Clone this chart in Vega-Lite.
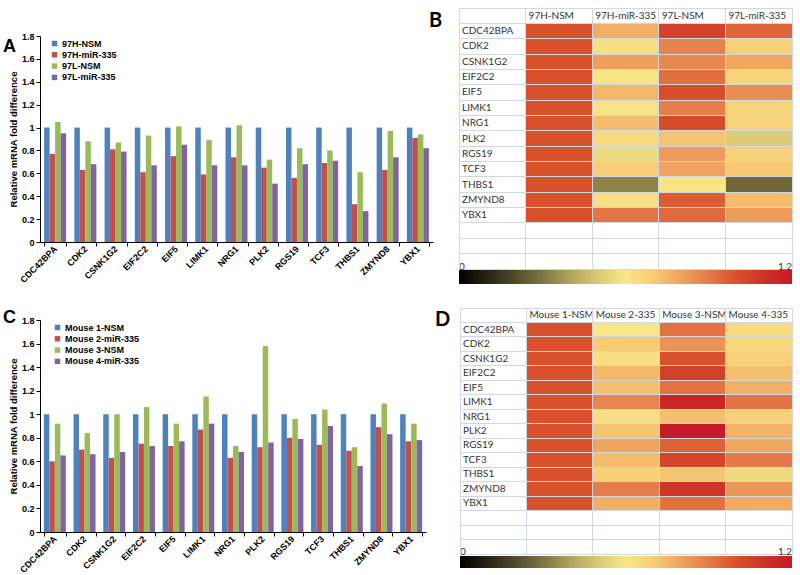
{
  "$schema": "https://vega.github.io/schema/vega-lite/v6.json",
  "background": "white",
  "padding": {"left": 3, "top": 7, "right": 2, "bottom": 0},
  "config": {
    "view": {"stroke": null},
    "font": "Liberation Sans",
    "title": {"fontSize": 18, "fontWeight": "bold", "anchor": "start", "frame": "group", "offset": 0, "baseline": "alphabetic", "color": "#000"}
  },
  "datasets": {
    "cells": [
      {"gene": "CDC42BPA", "sample": "97H-NSM", "value": 1}, {"gene": "CDC42BPA", "sample": "97H-miR-335", "value": 0.77}, {"gene": "CDC42BPA", "sample": "97L-NSM", "value": 1.05}, {"gene": "CDC42BPA", "sample": "97L-miR-335", "value": 0.95},
      {"gene": "CDK2", "sample": "97H-NSM", "value": 1}, {"gene": "CDK2", "sample": "97H-miR-335", "value": 0.63}, {"gene": "CDK2", "sample": "97L-NSM", "value": 0.88}, {"gene": "CDK2", "sample": "97L-miR-335", "value": 0.68},
      {"gene": "CSNK1G2", "sample": "97H-NSM", "value": 1}, {"gene": "CSNK1G2", "sample": "97H-miR-335", "value": 0.81}, {"gene": "CSNK1G2", "sample": "97L-NSM", "value": 0.87}, {"gene": "CSNK1G2", "sample": "97L-miR-335", "value": 0.79},
      {"gene": "EIF2C2", "sample": "97H-NSM", "value": 1}, {"gene": "EIF2C2", "sample": "97H-miR-335", "value": 0.61}, {"gene": "EIF2C2", "sample": "97L-NSM", "value": 0.93}, {"gene": "EIF2C2", "sample": "97L-miR-335", "value": 0.67},
      {"gene": "EIF5", "sample": "97H-NSM", "value": 1}, {"gene": "EIF5", "sample": "97H-miR-335", "value": 0.75}, {"gene": "EIF5", "sample": "97L-NSM", "value": 1.01}, {"gene": "EIF5", "sample": "97L-miR-335", "value": 0.85},
      {"gene": "LIMK1", "sample": "97H-NSM", "value": 1}, {"gene": "LIMK1", "sample": "97H-miR-335", "value": 0.59}, {"gene": "LIMK1", "sample": "97L-NSM", "value": 0.89}, {"gene": "LIMK1", "sample": "97L-miR-335", "value": 0.67},
      {"gene": "NRG1", "sample": "97H-NSM", "value": 1}, {"gene": "NRG1", "sample": "97H-miR-335", "value": 0.74}, {"gene": "NRG1", "sample": "97L-NSM", "value": 1.02}, {"gene": "NRG1", "sample": "97L-miR-335", "value": 0.67},
      {"gene": "PLK2", "sample": "97H-NSM", "value": 1}, {"gene": "PLK2", "sample": "97H-miR-335", "value": 0.65}, {"gene": "PLK2", "sample": "97L-NSM", "value": 0.72}, {"gene": "PLK2", "sample": "97L-miR-335", "value": 0.51},
      {"gene": "RGS19", "sample": "97H-NSM", "value": 1}, {"gene": "RGS19", "sample": "97H-miR-335", "value": 0.56}, {"gene": "RGS19", "sample": "97L-NSM", "value": 0.82}, {"gene": "RGS19", "sample": "97L-miR-335", "value": 0.68},
      {"gene": "TCF3", "sample": "97H-NSM", "value": 1}, {"gene": "TCF3", "sample": "97H-miR-335", "value": 0.69}, {"gene": "TCF3", "sample": "97L-NSM", "value": 0.8}, {"gene": "TCF3", "sample": "97L-miR-335", "value": 0.71},
      {"gene": "THBS1", "sample": "97H-NSM", "value": 1}, {"gene": "THBS1", "sample": "97H-miR-335", "value": 0.33}, {"gene": "THBS1", "sample": "97L-NSM", "value": 0.61}, {"gene": "THBS1", "sample": "97L-miR-335", "value": 0.27},
      {"gene": "ZMYND8", "sample": "97H-NSM", "value": 1}, {"gene": "ZMYND8", "sample": "97H-miR-335", "value": 0.63}, {"gene": "ZMYND8", "sample": "97L-NSM", "value": 0.97}, {"gene": "ZMYND8", "sample": "97L-miR-335", "value": 0.74},
      {"gene": "YBX1", "sample": "97H-NSM", "value": 1}, {"gene": "YBX1", "sample": "97H-miR-335", "value": 0.91}, {"gene": "YBX1", "sample": "97L-NSM", "value": 0.94}, {"gene": "YBX1", "sample": "97L-miR-335", "value": 0.82}
    ],
    "mice": [
      {"gene": "CDC42BPA", "sample": "Mouse 1-NSM", "short": "Mouse 1-NSM", "value": 1}, {"gene": "CDC42BPA", "sample": "Mouse 2-miR-335", "short": "Mouse 2-335", "value": 0.6}, {"gene": "CDC42BPA", "sample": "Mouse 3-NSM", "short": "Mouse 3-NSM", "value": 0.92}, {"gene": "CDC42BPA", "sample": "Mouse 4-miR-335", "short": "Mouse 4-335", "value": 0.65},
      {"gene": "CDK2", "sample": "Mouse 1-NSM", "short": "Mouse 1-NSM", "value": 1}, {"gene": "CDK2", "sample": "Mouse 2-miR-335", "short": "Mouse 2-335", "value": 0.7}, {"gene": "CDK2", "sample": "Mouse 3-NSM", "short": "Mouse 3-NSM", "value": 0.84}, {"gene": "CDK2", "sample": "Mouse 4-miR-335", "short": "Mouse 4-335", "value": 0.66},
      {"gene": "CSNK1G2", "sample": "Mouse 1-NSM", "short": "Mouse 1-NSM", "value": 1}, {"gene": "CSNK1G2", "sample": "Mouse 2-miR-335", "short": "Mouse 2-335", "value": 0.63}, {"gene": "CSNK1G2", "sample": "Mouse 3-NSM", "short": "Mouse 3-NSM", "value": 1.0}, {"gene": "CSNK1G2", "sample": "Mouse 4-miR-335", "short": "Mouse 4-335", "value": 0.68},
      {"gene": "EIF2C2", "sample": "Mouse 1-NSM", "short": "Mouse 1-NSM", "value": 1}, {"gene": "EIF2C2", "sample": "Mouse 2-miR-335", "short": "Mouse 2-335", "value": 0.75}, {"gene": "EIF2C2", "sample": "Mouse 3-NSM", "short": "Mouse 3-NSM", "value": 1.06}, {"gene": "EIF2C2", "sample": "Mouse 4-miR-335", "short": "Mouse 4-335", "value": 0.73},
      {"gene": "EIF5", "sample": "Mouse 1-NSM", "short": "Mouse 1-NSM", "value": 1}, {"gene": "EIF5", "sample": "Mouse 2-miR-335", "short": "Mouse 2-335", "value": 0.73}, {"gene": "EIF5", "sample": "Mouse 3-NSM", "short": "Mouse 3-NSM", "value": 0.92}, {"gene": "EIF5", "sample": "Mouse 4-miR-335", "short": "Mouse 4-335", "value": 0.77},
      {"gene": "LIMK1", "sample": "Mouse 1-NSM", "short": "Mouse 1-NSM", "value": 1}, {"gene": "LIMK1", "sample": "Mouse 2-miR-335", "short": "Mouse 2-335", "value": 0.87}, {"gene": "LIMK1", "sample": "Mouse 3-NSM", "short": "Mouse 3-NSM", "value": 1.15}, {"gene": "LIMK1", "sample": "Mouse 4-miR-335", "short": "Mouse 4-335", "value": 0.92},
      {"gene": "NRG1", "sample": "Mouse 1-NSM", "short": "Mouse 1-NSM", "value": 1}, {"gene": "NRG1", "sample": "Mouse 2-miR-335", "short": "Mouse 2-335", "value": 0.63}, {"gene": "NRG1", "sample": "Mouse 3-NSM", "short": "Mouse 3-NSM", "value": 0.73}, {"gene": "NRG1", "sample": "Mouse 4-miR-335", "short": "Mouse 4-335", "value": 0.68},
      {"gene": "PLK2", "sample": "Mouse 1-NSM", "short": "Mouse 1-NSM", "value": 1}, {"gene": "PLK2", "sample": "Mouse 2-miR-335", "short": "Mouse 2-335", "value": 0.72}, {"gene": "PLK2", "sample": "Mouse 3-NSM", "short": "Mouse 3-NSM", "value": 1.58}, {"gene": "PLK2", "sample": "Mouse 4-miR-335", "short": "Mouse 4-335", "value": 0.76},
      {"gene": "RGS19", "sample": "Mouse 1-NSM", "short": "Mouse 1-NSM", "value": 1}, {"gene": "RGS19", "sample": "Mouse 2-miR-335", "short": "Mouse 2-335", "value": 0.8}, {"gene": "RGS19", "sample": "Mouse 3-NSM", "short": "Mouse 3-NSM", "value": 0.96}, {"gene": "RGS19", "sample": "Mouse 4-miR-335", "short": "Mouse 4-335", "value": 0.79},
      {"gene": "TCF3", "sample": "Mouse 1-NSM", "short": "Mouse 1-NSM", "value": 1}, {"gene": "TCF3", "sample": "Mouse 2-miR-335", "short": "Mouse 2-335", "value": 0.74}, {"gene": "TCF3", "sample": "Mouse 3-NSM", "short": "Mouse 3-NSM", "value": 1.04}, {"gene": "TCF3", "sample": "Mouse 4-miR-335", "short": "Mouse 4-335", "value": 0.9},
      {"gene": "THBS1", "sample": "Mouse 1-NSM", "short": "Mouse 1-NSM", "value": 1}, {"gene": "THBS1", "sample": "Mouse 2-miR-335", "short": "Mouse 2-335", "value": 0.69}, {"gene": "THBS1", "sample": "Mouse 3-NSM", "short": "Mouse 3-NSM", "value": 0.72}, {"gene": "THBS1", "sample": "Mouse 4-miR-335", "short": "Mouse 4-335", "value": 0.56},
      {"gene": "ZMYND8", "sample": "Mouse 1-NSM", "short": "Mouse 1-NSM", "value": 1}, {"gene": "ZMYND8", "sample": "Mouse 2-miR-335", "short": "Mouse 2-335", "value": 0.89}, {"gene": "ZMYND8", "sample": "Mouse 3-NSM", "short": "Mouse 3-NSM", "value": 1.09}, {"gene": "ZMYND8", "sample": "Mouse 4-miR-335", "short": "Mouse 4-335", "value": 0.83},
      {"gene": "YBX1", "sample": "Mouse 1-NSM", "short": "Mouse 1-NSM", "value": 1}, {"gene": "YBX1", "sample": "Mouse 2-miR-335", "short": "Mouse 2-335", "value": 0.77}, {"gene": "YBX1", "sample": "Mouse 3-NSM", "short": "Mouse 3-NSM", "value": 0.92}, {"gene": "YBX1", "sample": "Mouse 4-miR-335", "short": "Mouse 4-335", "value": 0.78}
    ]
  },
  "resolve": {"scale": {"color": "independent"}, "legend": {"color": "independent"}},
  "spacing": 22,
  "vconcat": [
    {
      "spacing": -5,
      "resolve": {"scale": {"color": "independent"}, "legend": {"color": "independent"}},
      "hconcat": [
        {
          "data": {"name": "cells"},
          "title": {"text": "A", "dx": -37, "dy": 52},
          "width": 393,
          "height": 234,
          "encoding": {
            "x": {"field": "gene", "type": "nominal",
              "sort": ["CDC42BPA","CDK2","CSNK1G2","EIF2C2","EIF5","LIMK1","NRG1","PLK2","RGS19","TCF3","THBS1","ZMYND8","YBX1"],
              "scale": {"paddingInner": 0.27, "paddingOuter": 0.135},
              "axis": {"title": null, "labelAngle": -45, "labelAlign": "right", "labelBaseline": "middle", "labelFontSize": 9, "labelFontWeight": "bold", "labelColor": "#000", "domainColor": "#000", "tickColor": "#000", "tickSize": 4, "tickBand": "extent", "labelPadding": 1}},
            "y": {"field": "value", "type": "quantitative",
              "scale": {"domain": [0, 1.8], "range": [234, 28], "nice": false},
              "axis": {"title": "Relative mRNA fold difference", "titleFontSize": 9.5, "titleFontWeight": "bold", "titleColor": "#000", "titlePadding": 3, "titleY": 131, "values": [0, 0.2, 0.4, 0.6, 0.8, 1, 1.2, 1.4, 1.6, 1.8], "format": "~g", "labelFontSize": 9, "labelFontWeight": "bold", "labelColor": "#000", "domainColor": "#000", "tickColor": "#000", "tickSize": 4, "grid": false, "labelPadding": 2}},
            "color": {"field": "sample", "type": "nominal",
              "scale": {"domain": ["97H-NSM","97H-miR-335","97L-NSM","97L-miR-335"], "range": ["#4f81bd","#c0504d","#9bbb59","#8064a2"]},
              "legend": {"orient": "none", "legendX": 10, "legendY": 31, "title": null, "symbolType": "square", "symbolSize": 30, "symbolStrokeWidth": 0, "symbolOpacity": 1, "labelFontSize": 9, "labelFontWeight": "bold", "labelColor": "#000", "rowPadding": 1.3, "padding": 0, "labelOffset": 3}}
          },
          "layer": [
            {"transform": [{"filter": "datum.sample == '97H-NSM'"}], "mark": {"type": "bar", "width": 5.5, "xOffset": -8.25}},
            {"transform": [{"filter": "datum.sample == '97H-miR-335'"}], "mark": {"type": "bar", "width": 5.5, "xOffset": -2.75}},
            {"transform": [{"filter": "datum.sample == '97L-NSM'"}], "mark": {"type": "bar", "width": 5.5, "xOffset": 2.75}},
            {"transform": [{"filter": "datum.sample == '97L-miR-335'"}], "mark": {"type": "bar", "width": 5.5, "xOffset": 8.25}}
          ]
        },
        {
          "data": {"name": "cells"},
          "title": {"text": "B", "font": "Lato", "fontSize": 20, "dx": -30, "dy": 27},
          "width": 333,
          "height": 261,
          "view": {"stroke": "#d0d7e5"},
          "encoding": {
            "x": {"field": "sample", "type": "nominal",
              "scale": {"domain": ["lbl","97H-NSM","97H-miR-335","97L-NSM","97L-miR-335"], "paddingInner": 0, "paddingOuter": 0},
              "axis": {"title": null, "labels": false, "ticks": false, "domain": false, "grid": true, "gridColor": "#d0d7e5", "bandPosition": 0, "orient": "top"}},
            "y": {"field": "gene", "type": "nominal",
              "scale": {"domain": ["hdr","CDC42BPA","CDK2","CSNK1G2","EIF2C2","EIF5","LIMK1","NRG1","PLK2","RGS19","TCF3","THBS1","ZMYND8","YBX1","e1","e2","lab"], "paddingInner": 0, "paddingOuter": 0},
              "axis": {"title": null, "labels": false, "ticks": false, "domain": false, "grid": true, "gridColor": "#d0d7e5", "bandPosition": 0}}
          },
          "layer": [
            {
              "mark": {"type": "rect"},
              "encoding": {
                "color": {"field": "value", "type": "quantitative",
                  "scale": {"domain": [0, 0.15, 0.3, 0.45, 0.6, 0.7, 0.8, 0.9, 1.0, 1.1, 1.2], "range": ["#000000", "#3a3420", "#7d7541", "#c9ba6b", "#f9e789", "#f7cc75", "#efa35e", "#e47a48", "#d9512b", "#cc3426", "#c51a28"], "clamp": true, "interpolate": "rgb"},
                  "legend": {"orient": "none", "legendX": 0, "legendY": 262, "direction": "horizontal", "gradientLength": 333, "gradientThickness": 14, "title": null, "values": [0, 1.2], "format": "~g", "labelFont": "Lato", "labelFontSize": 10, "labelColor": "#333", "labelBaseline": "middle", "labelOffset": -22, "labelOverlap": false, "gradientStrokeWidth": 0, "padding": 0}}
              }
            },
            {
              "transform": [{"filter": "datum.gene == 'CDC42BPA'"}],
              "mark": {"type": "text", "align": "left", "dx": 3, "font": "Lato", "fontSize": 10, "color": "#333"},
              "encoding": {"x": {"field": "sample", "type": "nominal", "bandPosition": 0}, "y": {"datum": "hdr"}, "text": {"field": "sample"}}
            },
            {
              "transform": [{"filter": "datum.sample == '97H-NSM'"}],
              "mark": {"type": "text", "align": "left", "dx": 3, "font": "Lato", "fontSize": 10, "color": "#333"},
              "encoding": {"x": {"datum": "lbl", "bandPosition": 0}, "y": {"field": "gene", "type": "nominal"}, "text": {"field": "gene"}}
            }
          ]
        }
      ]
    },
    {
      "spacing": 8,
      "resolve": {"scale": {"color": "independent"}, "legend": {"color": "independent"}},
      "hconcat": [
        {
          "data": {"name": "mice"},
          "title": {"text": "C", "dx": -37, "dy": 23},
          "width": 386,
          "height": 224,
          "encoding": {
            "x": {"field": "gene", "type": "nominal",
              "sort": ["CDC42BPA","CDK2","CSNK1G2","EIF2C2","EIF5","LIMK1","NRG1","PLK2","RGS19","TCF3","THBS1","ZMYND8","YBX1"],
              "scale": {"paddingInner": 0.26, "paddingOuter": 0.13},
              "axis": {"title": null, "labelAngle": -45, "labelAlign": "right", "labelBaseline": "middle", "labelFontSize": 9, "labelFontWeight": "bold", "labelColor": "#000", "domainColor": "#000", "tickColor": "#000", "tickSize": 4, "tickBand": "extent", "labelPadding": 1}},
            "y": {"field": "value", "type": "quantitative",
              "scale": {"domain": [0, 1.8], "range": [224, 12], "nice": false},
              "axis": {"title": "Relative mRNA fold difference", "titleFontSize": 9.5, "titleFontWeight": "bold", "titleColor": "#000", "titlePadding": 3, "titleY": 118, "values": [0, 0.2, 0.4, 0.6, 0.8, 1, 1.2, 1.4, 1.6, 1.8], "format": "~g", "labelFontSize": 9, "labelFontWeight": "bold", "labelColor": "#000", "domainColor": "#000", "tickColor": "#000", "tickSize": 4, "grid": false, "labelPadding": 2}},
            "color": {"field": "sample", "type": "nominal",
              "scale": {"domain": ["Mouse 1-NSM","Mouse 2-miR-335","Mouse 3-NSM","Mouse 4-miR-335"], "range": ["#4f81bd","#c0504d","#9bbb59","#8064a2"]},
              "legend": {"orient": "none", "legendX": 13, "legendY": 15, "title": null, "symbolType": "square", "symbolSize": 30, "symbolStrokeWidth": 0, "symbolOpacity": 1, "labelFontSize": 9, "labelFontWeight": "bold", "labelColor": "#000", "rowPadding": 1.3, "padding": 0, "labelOffset": 3}}
          },
          "layer": [
            {"transform": [{"filter": "datum.sample == 'Mouse 1-NSM'"}], "mark": {"type": "bar", "width": 5.5, "xOffset": -8.25}},
            {"transform": [{"filter": "datum.sample == 'Mouse 2-miR-335'"}], "mark": {"type": "bar", "width": 5.5, "xOffset": -2.75}},
            {"transform": [{"filter": "datum.sample == 'Mouse 3-NSM'"}], "mark": {"type": "bar", "width": 5.5, "xOffset": 2.75}},
            {"transform": [{"filter": "datum.sample == 'Mouse 4-miR-335'"}], "mark": {"type": "bar", "width": 5.5, "xOffset": 8.25}}
          ]
        },
        {
          "data": {"name": "mice"},
          "title": {"text": "D", "font": "Lato", "fontSize": 20, "dx": -25, "dy": 26},
          "width": 332,
          "height": 246,
          "view": {"stroke": "#d0d7e5"},
          "encoding": {
            "x": {"field": "short", "type": "nominal",
              "scale": {"domain": ["lbl","Mouse 1-NSM","Mouse 2-335","Mouse 3-NSM","Mouse 4-335"], "paddingInner": 0, "paddingOuter": 0},
              "axis": {"title": null, "labels": false, "ticks": false, "domain": false, "grid": true, "gridColor": "#d0d7e5", "bandPosition": 0, "orient": "top"}},
            "y": {"field": "gene", "type": "nominal",
              "scale": {"domain": ["hdr","CDC42BPA","CDK2","CSNK1G2","EIF2C2","EIF5","LIMK1","NRG1","PLK2","RGS19","TCF3","THBS1","ZMYND8","YBX1","e1","e2","lab"], "paddingInner": 0, "paddingOuter": 0},
              "axis": {"title": null, "labels": false, "ticks": false, "domain": false, "grid": true, "gridColor": "#d0d7e5", "bandPosition": 0}}
          },
          "layer": [
            {
              "mark": {"type": "rect"},
              "encoding": {
                "color": {"field": "value", "type": "quantitative",
                  "scale": {"domain": [0, 0.15, 0.3, 0.45, 0.6, 0.7, 0.8, 0.9, 1.0, 1.1, 1.2], "range": ["#000000", "#3a3420", "#7d7541", "#c9ba6b", "#f9e789", "#f7cc75", "#efa35e", "#e47a48", "#d9512b", "#cc3426", "#c51a28"], "clamp": true, "interpolate": "rgb"},
                  "legend": {"orient": "none", "legendX": 0, "legendY": 248, "direction": "horizontal", "gradientLength": 332, "gradientThickness": 12, "title": null, "values": [0, 1.2], "format": "~g", "labelFont": "Lato", "labelFontSize": 10, "labelColor": "#333", "labelBaseline": "middle", "labelOffset": -21, "labelOverlap": false, "gradientStrokeWidth": 0, "padding": 0}}
              }
            },
            {
              "transform": [{"filter": "datum.gene == 'CDC42BPA'"}],
              "mark": {"type": "text", "align": "left", "dx": 3, "font": "Lato", "fontSize": 10, "color": "#333"},
              "encoding": {"x": {"field": "short", "type": "nominal", "bandPosition": 0}, "y": {"datum": "hdr"}, "text": {"field": "short"}}
            },
            {
              "transform": [{"filter": "datum.short == 'Mouse 1-NSM'"}],
              "mark": {"type": "text", "align": "left", "dx": 3, "font": "Lato", "fontSize": 10, "color": "#333"},
              "encoding": {"x": {"datum": "lbl", "bandPosition": 0}, "y": {"field": "gene", "type": "nominal"}, "text": {"field": "gene"}}
            }
          ]
        }
      ]
    }
  ]
}
